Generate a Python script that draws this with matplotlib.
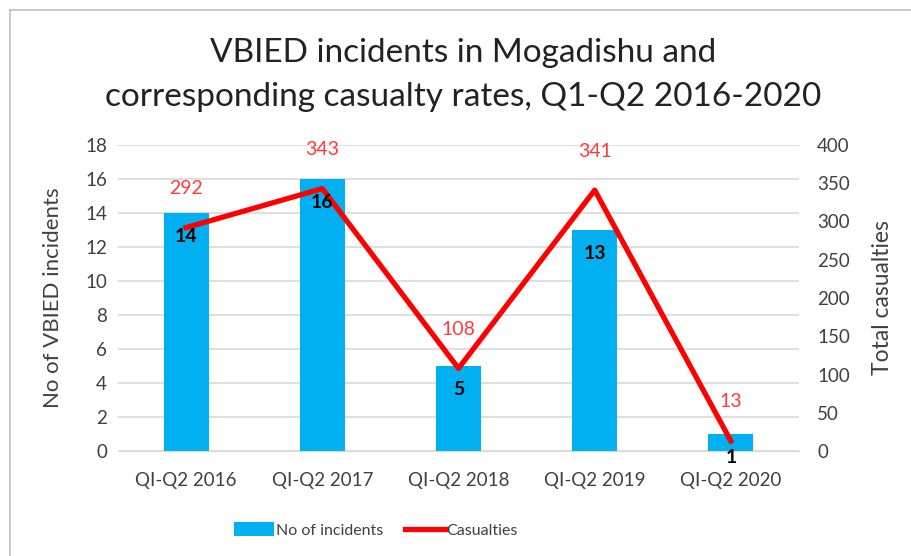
import matplotlib.pyplot as plt
from matplotlib.lines import Line2D
import numpy as np

periods = ["QI-Q2 2016", "QI-Q2 2017", "QI-Q2 2018", "QI-Q2 2019", "QI-Q2 2020"]
incidents = [14, 16, 5, 13, 1]
casualties = [292, 343, 108, 341, 13]

plt.rcParams['font.family'] = ['Lato', 'DejaVu Sans']

fig = plt.figure(figsize=(9.12, 5.56), dpi=100)
ax = fig.add_axes([118/912, 1-451/556, 681/912, 306/556])
ax2 = ax.twinx()

x = np.arange(len(periods))
bars = ax.bar(x, incidents, width=0.33, color='#00B0F0', zorder=2, label='No of incidents')
ax.set_xlim(-0.5, 4.5)
ax.set_ylim(0, 18)
ax.set_yticks(range(0, 19, 2))
ax.set_xticks(x)
ax.set_xticklabels(periods)
ax.grid(axis='y', color='#d9d9d9', lw=1.2, zorder=0)
ax.set_axisbelow(True)
for s in ['top', 'right', 'left']:
    ax.spines[s].set_visible(False)
ax.spines['bottom'].set_color('#d9d9d9')
ax.tick_params(length=0, labelsize=13.5, colors='#404040', pad=8)
ax.tick_params(axis='x', pad=15)
ax.set_ylabel('No of VBIED incidents', fontsize=16, color='#404040', labelpad=16)

line, = ax2.plot(x, casualties, color='#ff0000', lw=3.8, zorder=3, label='Casualties')
ax2.set_ylim(0, 400)
ax2.set_yticks(range(0, 401, 50))
for s in ax2.spines.values():
    s.set_visible(False)
ax2.tick_params(axis='y', length=0, labelsize=13.5, colors='#404040', pad=13)
for lab in ax2.get_yticklabels():
    lab.set_horizontalalignment('left')
ax2.set_ylabel('Total casualties', fontsize=16.5, color='#404040', va='center')
ax2.yaxis.set_label_coords((883 - 118) / 681, 0.5)
for xi, v in zip(x, casualties):
    ax2.text(xi, v + 40, str(v), ha='center', va='bottom', fontsize=14, color='#ff3b3b')

# bar value labels drawn on top of the line
for xi, v in zip(x, incidents):
    ax2.text(xi, v - 0.9, str(v), ha='center', va='top', fontsize=14, fontweight='bold',
             color='black', zorder=5, transform=ax.transData)

fig.suptitle('VBIED incidents in Mogadishu and\ncorresponding casualty rates, Q1-Q2 2016-2020',
             fontsize=24, color='#222222', x=0.508, y=0.932, linespacing=1.6)

fig.legend([bars, line], ['No of incidents', 'Casualties'], loc='center',
           bbox_to_anchor=(376/912, 1-530/556), ncol=2, frameon=False, fontsize=11.5,
           handlelength=2.5, handleheight=0.9, columnspacing=1.4, handletextpad=0.1,
           labelcolor='#404040')

fig.add_artist(Line2D([10/912, 1], [1-10/556, 1-10/556], color='#bfbfbf', lw=1.2))
fig.add_artist(Line2D([10/912, 10/912], [0, 1-10/556], color='#bfbfbf', lw=1.2))

fig.savefig('out.png', dpi=100)
